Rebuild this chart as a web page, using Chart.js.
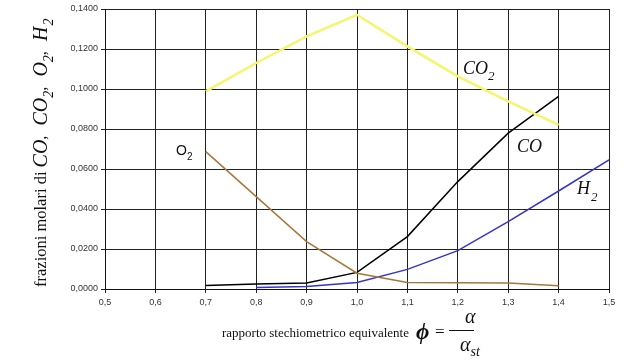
<!DOCTYPE html>
<html lang="it">
<head>
<meta charset="UTF-8">
<title>Frazioni molari</title>
<script src="https://cdn.jsdelivr.net/npm/chart.js"></script>
<style>
  body { margin: 0; background: #fff; }
</style>
</head>
<body>
<canvas id="chart" width="642" height="364"></canvas>
<script>
// valori
var phi = [0.7, 0.8, 0.9, 1.0, 1.1, 1.2, 1.3, 1.4, 1.5];
var co2 = [0.0988, 0.1130, 0.1263, 0.1371, 0.1213, 0.1063, 0.0938, 0.0821, null];
var o2  = [0.0687, 0.0462, 0.0237, 0.0079, 0.0032, 0.0031, 0.0030, 0.0016, null];
var co  = [0.0017, 0.0025, 0.0030, 0.0083, 0.0262, 0.0537, 0.0779, 0.0963, null];
var h2  = [null, 0.0008, 0.0012, 0.0032, 0.0098, 0.0192, 0.0337, 0.0490, 0.0646];

function pts(ys) {
  var out = [];
  for (var i = 0; i < phi.length; i++) {
    if (ys[i] !== null) out.push({ x: phi[i], y: ys[i] });
  }
  return out;
}

var serif = '"Liberation Serif", "Times New Roman", serif';

// scrive una sequenza di pezzi di testo uno dopo l'altro
function runs(ctx, x, y, parts) {
  parts.forEach(function (p) {
    ctx.font = p.font;
    ctx.fillText(p.t, x, y + (p.dy || 0));
    x += ctx.measureText(p.t).width + (p.gap || 0);
  });
}

var labelsPlugin = {
  id: 'labels',
  afterDraw: function (chart) {
    var ctx = chart.ctx;
    ctx.save();
    ctx.fillStyle = '#111';
    ctx.textBaseline = 'middle';
    ctx.textAlign = 'left';

    var it = 'italic 18px ' + serif;
    var sub = 'italic 13px ' + serif;

    // etichette delle curve
    runs(ctx, 463, 69, [{ t: 'CO', font: it }, { t: '2', font: sub, dy: 8 }]);
    runs(ctx, 517, 147, [{ t: 'CO', font: it }]);
    runs(ctx, 577, 189, [{ t: 'H', font: it, gap: 1 }, { t: '2', font: sub, dy: 9 }]);
    runs(ctx, 176, 151, [{ t: 'O', font: '14px "Liberation Sans", Arial, sans-serif' },
                         { t: '2', font: '10px "Liberation Sans", Arial, sans-serif', dy: 6 }]);

    // titolo asse y (ruotato)
    ctx.save();
    ctx.translate(42, 287);
    ctx.rotate(-Math.PI / 2);
    var up = '16.5px ' + serif;
    var iy = 'italic 20px ' + serif;
    var sy = 'italic 14px ' + serif;
    runs(ctx, 0, 0, [
      { t: 'frazioni molari di ', font: up },
      { t: 'CO', font: iy }, { t: ',', font: up, gap: 10 },
      { t: 'CO', font: iy }, { t: '2', font: sy, dy: 7 }, { t: ',', font: up, gap: 10 },
      { t: 'O', font: iy }, { t: '2', font: sy, dy: 7 }, { t: ',', font: up, gap: 10 },
      { t: 'H', font: iy, gap: 1 }, { t: '2', font: sy, dy: 7 }
    ]);
    ctx.restore();

    // titolo asse x
    runs(ctx, 222, 334, [{ t: 'rapporto stechiometrico equivalente ', font: '13px ' + serif }]);
    ctx.font = 'italic bold 23px ' + serif;
    ctx.fillText('\u03d5', 416, 333);
    ctx.font = '17px ' + serif;
    ctx.fillText('=', 435, 333);
    ctx.font = 'italic 20px ' + serif;
    ctx.fillText('\u03b1', 465, 318);
    runs(ctx, 460, 346, [{ t: '\u03b1', font: 'italic 20px ' + serif },
                         { t: 'st', font: 'italic 14px ' + serif, dy: 6 }]);
    ctx.strokeStyle = '#111';
    ctx.lineWidth = 1;
    ctx.beginPath();
    ctx.moveTo(449, 330.5);
    ctx.lineTo(474, 330.5);
    ctx.stroke();

    ctx.restore();
  }
};

var tickFont = { family: '"Liberation Sans", Arial, sans-serif', size: 9 };

var ctx = document.getElementById('chart').getContext('2d');
var chart = new Chart(ctx, {
  type: 'line',
  data: {
    datasets: [
      { label: 'CO2', data: pts(co2), borderColor: '#f6f66a', borderWidth: 2.5 },
      { label: 'O2', data: pts(o2), borderColor: '#a8763a', borderWidth: 1.5 },
      { label: 'CO', data: pts(co), borderColor: '#000000', borderWidth: 1.5 },
      { label: 'H2', data: pts(h2), borderColor: '#3434cc', borderWidth: 1.5 }
    ]
  },
  options: {
    responsive: false,
    animation: false,
    devicePixelRatio: 1,
    layout: { padding: { left: 0, right: 33, top: 9, bottom: 0 } },
    elements: { point: { radius: 0 }, line: { tension: 0 } },
    plugins: { legend: { display: false }, tooltip: { enabled: false } },
    scales: {
      x: {
        type: 'linear',
        min: 0.5,
        max: 1.5,
        afterFit: function (s) { s.height = 75; },
        grid: { color: '#222', lineWidth: 1, tickLength: 4 },
        border: { color: '#111', width: 1 },
        ticks: {
          stepSize: 0.1,
          padding: 4,
          color: '#333',
          font: tickFont,
          maxRotation: 0,
          callback: function (v) { return v.toFixed(1).replace('.', ','); }
        }
      },
      y: {
        min: 0,
        max: 0.14,
        afterFit: function (s) { s.width = 105; },
        grid: { color: '#222', lineWidth: 1, tickLength: 4 },
        border: { color: '#111', width: 1 },
        ticks: {
          stepSize: 0.02,
          padding: 3,
          color: '#333',
          font: tickFont,
          callback: function (v) { return v.toFixed(4).replace('.', ','); }
        }
      }
    }
  },
  plugins: [labelsPlugin]
});
</script>
</body>
</html>
